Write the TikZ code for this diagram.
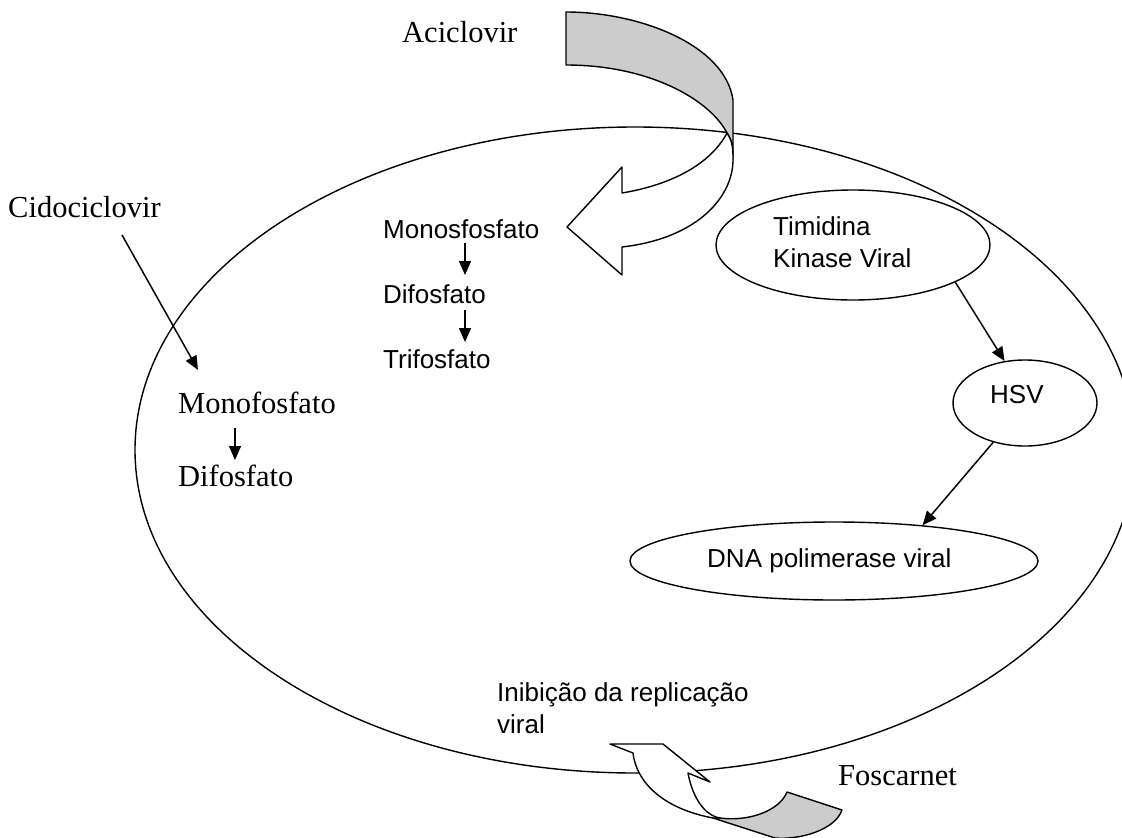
\documentclass[tikz,border=0pt]{standalone}
\usepackage{fontspec}
\setmainfont{Liberation Serif}
\setsansfont{Liberation Sans}
\usetikzlibrary{arrows.meta,shapes.geometric}
\begin{document}
\begin{tikzpicture}[x=1pt,y=-1pt,
  serif/.style={font=\fontsize{30.5}{36}\selectfont\rmfamily, inner sep=0pt, anchor=base west},
  sans/.style={font=\fontsize{26}{31}\selectfont\sffamily, inner sep=0pt, anchor=base west},
  oval/.style={draw, ellipse, inner sep=0pt, line width=1.4pt},
  arr/.style={-{Triangle[length=14pt,width=12pt]}, line width=1.5pt},
  ribbon/.style={draw, line width=1.4pt, line join=round}]
\useasboundingbox (0,0) rectangle (1122,838);
\clip (0,0) rectangle (1122,838);

% cell
\node[oval, minimum width=1000pt, minimum height=646pt] (cell) at (635,450) {};

% Aciclovir ribbon arrow
\path[ribbon, fill=black!20] (566,12) .. controls (640,12) and (725,45) .. (733,100)
  -- (733,160) .. controls (733,150) and (733,142) .. (727,133)
  .. controls (710,100) and (650,65) .. (566,65) -- cycle;
\path[ribbon, fill=white] (727,133) .. controls (733,142) and (733,150) .. (733,160)
  .. controls (733,195) and (700,238) .. (622,247) -- (622,275) -- (567,227)
  -- (622,167) -- (622,193) .. controls (670,185) and (710,165) .. (727,133) -- cycle;

% Foscarnet ribbon arrow
\path[ribbon, fill=black!20] (787,792) -- (842,810) .. controls (835,830) and (800,840) .. (775,838)
  -- (713,818) -- (720,818) .. controls (750,822) and (780,810) .. (787,792) -- cycle;
\path[ribbon, fill=white] (633,753) -- (610,744) -- (663,744) -- (710,782) -- (688,773)
  .. controls (692,795) and (703,815) .. (720,818) -- (713,818)
  .. controls (660,808) and (636,780) .. (633,753) -- cycle;

% texts
\node[serif] (aci) at (402,42) {Aciclovir};
\node[serif] (cid) at (8,217) {Cidociclovir};
\node[serif] (m1) at (178,413) {Monofosfato};
\node[serif] (d1) at (178,486) {Difosfato};
\node[serif] (fos) at (838,785) {Foscarnet};

\node[sans] (m2) at (383,238) {Monosfosfato};
\node[sans] (d2) at (383,303) {Difosfato};
\node[sans] (t2) at (383,368) {Trifosfato};
\node[sans] (inib1) at (497,701) {Inibição da replicação};
\node[sans] (inib2) at (497,733) {viral};

% enzyme ovals
\node[oval, minimum width=274pt, minimum height=110pt] (tk) at (853,245) {};
\node[sans] (tk1) at (773,235) {Timidina};
\node[sans] (tk2) at (773,267) {Kinase Viral};
\node[oval, minimum width=144pt, minimum height=86pt] (hsv) at (1025,403) {};
\node[sans] (hsvt) at (990,403) {HSV};
\node[oval, minimum width=408pt, minimum height=78pt] (dna) at (834,561) {};
\node[sans] (dnat) at (707,567) {DNA polimerase viral};

% connectors
\draw[arr] ([xshift=114pt,yshift=-18pt]cid.base west) -- ([xshift=20pt,yshift=43pt]m1.base west);
\draw[arr] ([xshift=57pt,yshift=-15pt]m1.base west) -- ([xshift=57pt,yshift=26pt]d1.base west);
\draw[arr] ([xshift=82pt,yshift=-5pt]m2.base west) -- ([xshift=82pt,yshift=28pt]d2.base west);
\draw[arr] ([xshift=82pt,yshift=-7pt]d2.base west) -- ([xshift=82pt,yshift=26pt]t2.base west);
\draw[arr] (tk.-20) -- (hsv.116);
\draw[arr] (hsv.231) -- (dna.22);
\end{tikzpicture}
\end{document}
